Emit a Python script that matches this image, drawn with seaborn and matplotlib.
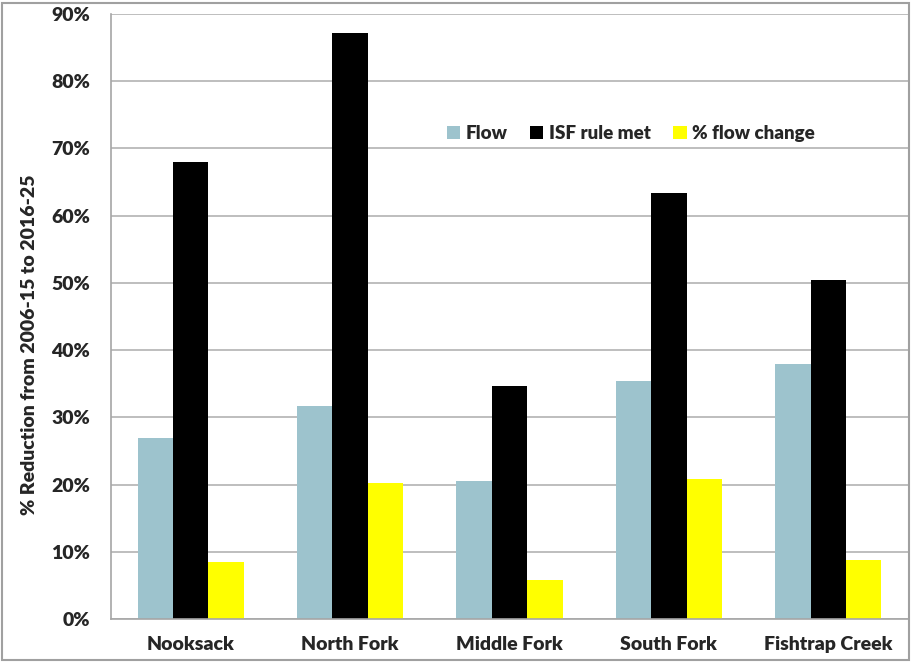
import pandas as pd
import matplotlib.pyplot as plt
import seaborn as sns
from matplotlib.patches import Rectangle
from matplotlib.ticker import PercentFormatter

# values (%)
sites = ['Nooksack', 'North Fork', 'Middle Fork', 'South Fork', 'Fishtrap Creek']
series = ['Flow', 'ISF rule met', '% flow change']
flow = [26.9, 31.7, 20.6, 35.4, 37.9]
isf_met = [68.0, 87.1, 34.7, 63.4, 50.4]
flow_change = [8.5, 20.3, 5.8, 20.8, 8.8]
colors = ['#9dc3cd', '#000000', '#ffff00']

df = pd.DataFrame({
    'site': sites * 3,
    'series': [s for s in series for _ in sites],
    'value': flow + isf_met + flow_change,
})

sns.set_style('white')
plt.rcParams['font.family'] = ['Lato', 'DejaVu Sans']
plt.rcParams['font.weight'] = 'heavy'

fig = plt.figure(figsize=(9.12, 6.62), dpi=100)
ax = fig.add_axes([111 / 912, 1 - 619 / 662, (908 - 111) / 912, (619 - 14) / 662])

sns.barplot(data=df, x='site', y='value', hue='series', order=sites, hue_order=series,
            palette=colors, width=0.667, gap=0, saturation=1, errorbar=None,
            linewidth=0, ax=ax, zorder=2)

ax.set_ylim(0, 90)
ax.set_yticks(range(0, 91, 10))
ax.yaxis.set_major_formatter(PercentFormatter(decimals=0))
ax.grid(axis='y', color='#b3b3b3', linewidth=1.2, zorder=0)
ax.set_axisbelow(True)
ax.set_xlim(-0.5, 4.5)

for side in ['top', 'right']:
    ax.spines[side].set_visible(False)
for side in ['left', 'bottom']:
    ax.spines[side].set_color('#a6a6a6')
    ax.spines[side].set_linewidth(1.2)

ax.tick_params(axis='y', length=0, pad=15, labelsize=14)
ax.tick_params(axis='x', length=0, pad=12, labelsize=14)
for lbl in ax.get_xticklabels() + ax.get_yticklabels():
    lbl.set_fontweight('heavy')
ax.set_xlabel('')
ax.set_ylabel('% Reduction from 2006-15 to 2016-25', fontsize=14, fontweight='heavy')
ax.yaxis.set_label_coords(-0.092, 0.453)

ax.legend(loc='center', bbox_to_anchor=(0.6525, 0.803), ncol=3, frameon=False,
          prop={'size': 13.5, 'weight': 'heavy'}, handlelength=0.7, handleheight=0.7,
          handletextpad=0.3, columnspacing=1.2)

# grey frame around the whole picture
fig.patches.append(Rectangle((2 / 912, 2 / 662), 907 / 912, 657 / 662, transform=fig.transFigure,
                             fill=False, edgecolor='#a0a0a0', linewidth=1.5))

plt.savefig('out.png', dpi=100)
